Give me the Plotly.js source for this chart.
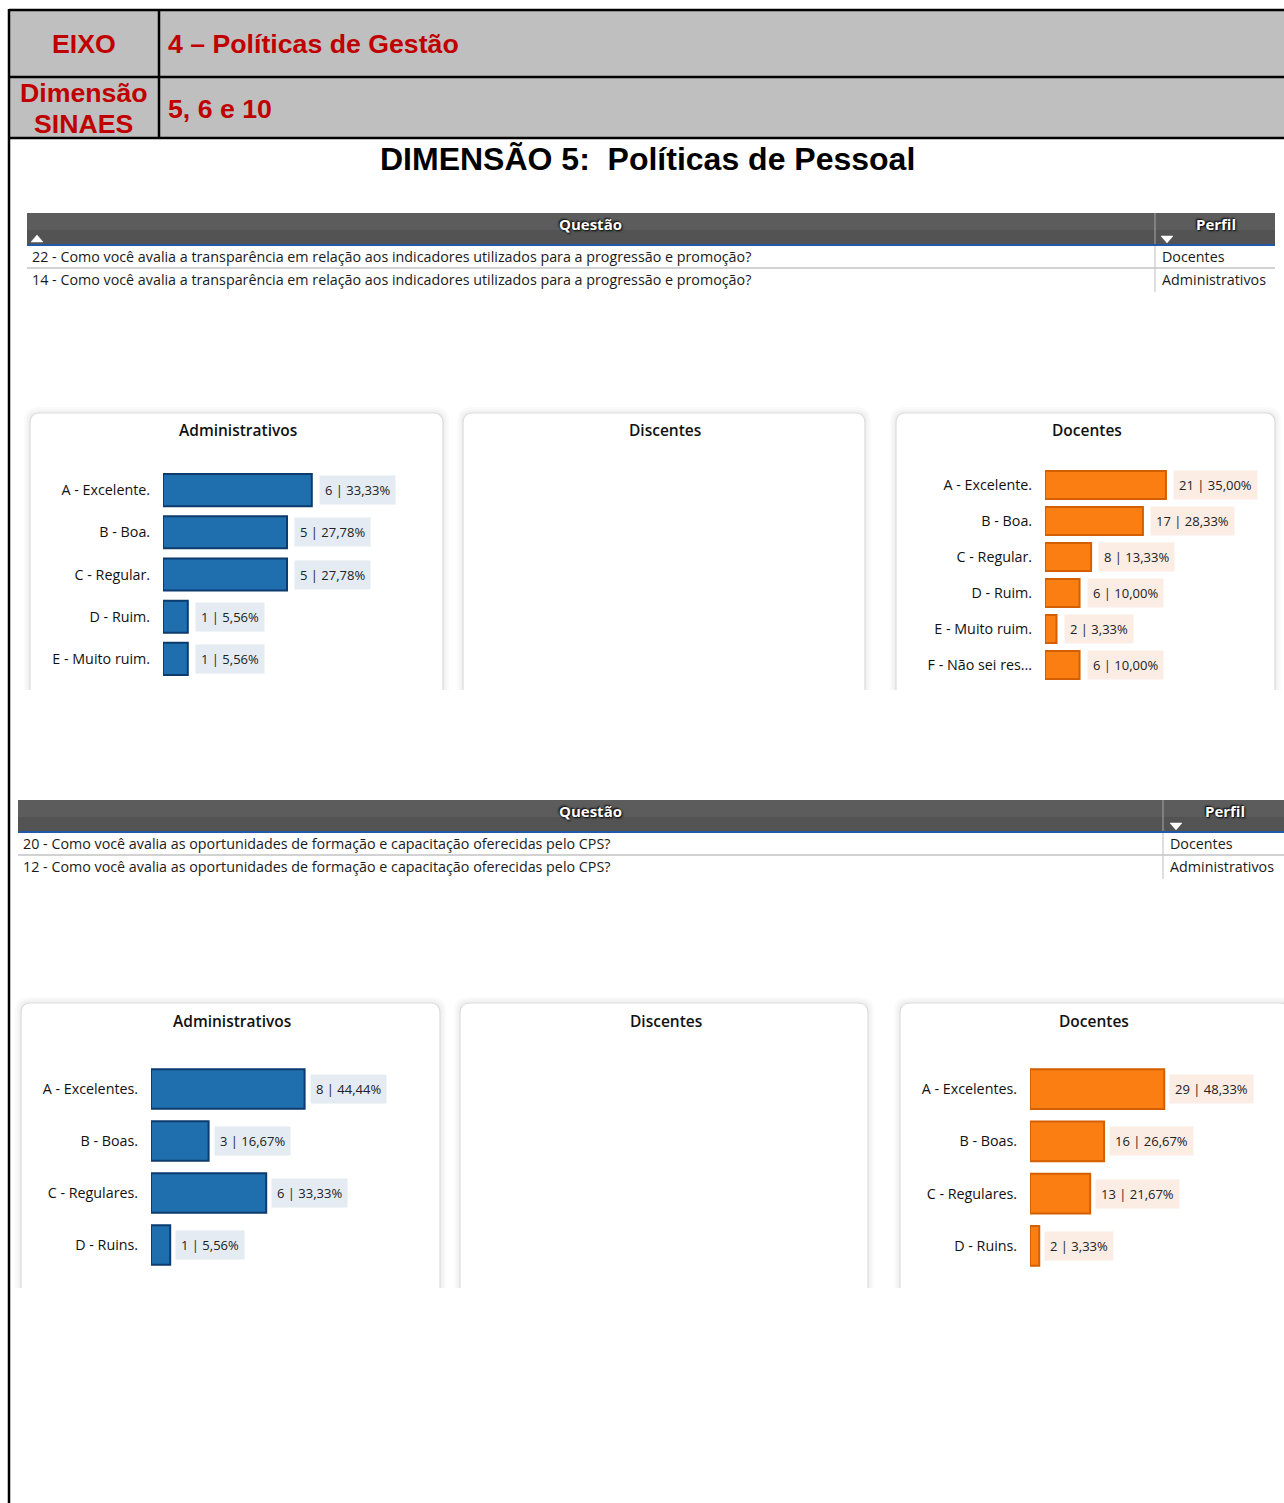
<!DOCTYPE html>
<html>
<head>
<meta charset="utf-8">
<script src="https://cdn.plot.ly/plotly-3.0.1.min.js"></script>
<style>html,body{margin:0;padding:0;background:#fff;}#chart{width:1284px;height:1503px;}</style>
</head>
<body>
<div id="chart"></div>
<script>
// ---------- DATA ----------
const headerEixo = 'EIXO';
const headerEixoValue = '4 – Políticas de Gestão';
const headerDim = ['Dimensão', 'SINAES'];
const headerDimValue = '5, 6 e 10';
const pageTitle = 'DIMENSÃO 5:  Políticas de Pessoal';

const table1Rows = [
  '22 - Como você avalia a transparência em relação aos indicadores utilizados para a progressão e promoção?',
  '14 - Como você avalia a transparência em relação aos indicadores utilizados para a progressão e promoção?'
];
const table1Perfil = ['Docentes', 'Administrativos'];
const table2Rows = [
  '20 - Como você avalia as oportunidades de formação e capacitação oferecidas pelo CPS?',
  '12 - Como você avalia as oportunidades de formação e capacitação oferecidas pelo CPS?'
];
const table2Perfil = ['Docentes', 'Administrativos'];
const panelTitles = ['Administrativos', 'Discentes', 'Docentes'];

const adm1Cats = ['A - Excelente.', 'B - Boa.', 'C - Regular.', 'D - Ruim.', 'E - Muito ruim.'];
const adm1Vals = [6, 5, 5, 1, 1];
const adm1Pct = ['33,33%', '27,78%', '27,78%', '5,56%', '5,56%'];

const doc1Cats = ['A - Excelente.', 'B - Boa.', 'C - Regular.', 'D - Ruim.', 'E - Muito ruim.', 'F - Não sei res...'];
const doc1Vals = [21, 17, 8, 6, 2, 6];
const doc1Pct = ['35,00%', '28,33%', '13,33%', '10,00%', '3,33%', '10,00%'];

const adm2Cats = ['A - Excelentes.', 'B - Boas.', 'C - Regulares.', 'D - Ruins.'];
const adm2Vals = [8, 3, 6, 1];
const adm2Pct = ['44,44%', '16,67%', '33,33%', '5,56%'];

const doc2Cats = ['A - Excelentes.', 'B - Boas.', 'C - Regulares.', 'D - Ruins.'];
const doc2Vals = [29, 16, 13, 2];
const doc2Pct = ['48,33%', '26,67%', '21,67%', '3,33%'];

// ---------- HELPERS ----------
const W = 1284, H = 1503;
const X = p => p / W;
const Y = p => 1 - p / H;
const shapes = [];
const annotations = [];
const UI = 'Open Sans, Noto Sans, sans-serif';
const ARIAL = 'Liberation Sans, Arial, sans-serif';

function rect(x0, y0, x1, y1, fill, lineColor, lw, layer) {
  shapes.push({type: 'rect', xref: 'paper', yref: 'paper', x0: X(x0), x1: X(x1), y0: Y(y0), y1: Y(y1),
    fillcolor: fill || 'rgba(0,0,0,0)', line: {color: lineColor || 'rgba(0,0,0,0)', width: lw || 0}, layer: layer || 'below'});
}
function line(x0, y0, x1, y1, color, w) {
  shapes.push({type: 'line', xref: 'paper', yref: 'paper', x0: X(x0), x1: X(x1), y0: Y(y0), y1: Y(y1),
    line: {color: color, width: w}, layer: 'above'});
}
function path(d, fill, lineColor, lw, layer) {
  shapes.push({type: 'path', xref: 'paper', yref: 'paper', path: d, fillcolor: fill || 'rgba(0,0,0,0)',
    line: {color: lineColor || 'rgba(0,0,0,0)', width: lw || 0}, layer: layer || 'below'});
}
function pt(x, y) { return X(x) + ',' + Y(y); }
function text(x, y, t, size, color, family, anchor, weight) {
  annotations.push({xref: 'paper', yref: 'paper', x: X(x), y: Y(y), text: t, showarrow: false,
    xanchor: anchor || 'center', yanchor: 'middle', font: {size: size, color: color, family: family, weight: weight || 'normal'}});
}
function triangle(cx, cy, up) {
  const d = up
    ? 'M ' + pt(cx - 6, cy + 4) + ' L ' + pt(cx + 6, cy + 4) + ' L ' + pt(cx, cy - 3) + ' Z'
    : 'M ' + pt(cx - 6, cy - 3) + ' L ' + pt(cx + 6, cy - 3) + ' L ' + pt(cx, cy + 4) + ' Z';
  path(d, '#ffffff', '#ffffff', 0.5, 'above');
}
function card(x0, y0, x1, y1) {
  const r = 10;
  for (let i = 3; i >= 1; i--) {
    const d = 'M ' + pt(x0 - i * 2, y1) + ' L ' + pt(x0 - i * 2, y0 + r - i) + ' Q ' + pt(x0 - i * 2, y0 - i * 2) + ' ' + pt(x0 + r, y0 - i * 2) +
      ' L ' + pt(x1 - r, y0 - i * 2) + ' Q ' + pt(x1 + i * 2, y0 - i * 2) + ' ' + pt(x1 + i * 2, y0 + r - i) + ' L ' + pt(x1 + i * 2, y1) + ' Z';
    path(d, 'rgba(0,0,0,0.018)', null, 0, 'below');
  }
  const d = 'M ' + pt(x0, y1) + ' L ' + pt(x0, y0 + r) + ' Q ' + pt(x0, y0) + ' ' + pt(x0 + r, y0) +
    ' L ' + pt(x1 - r, y0) + ' Q ' + pt(x1, y0) + ' ' + pt(x1, y0 + r) + ' L ' + pt(x1, y1);
  path(d + ' Z', '#ffffff', null, 0, 'below');
  path(d, null, '#dcdcdc', 1.2, 'below');
}
function tableBlock(x0, x1, xDiv, yTop, rows, perfil, textX, perfilX, qCenterX, pCenterX) {
  const hH = 31;
  rect(x0, yTop, x1, yTop + hH, '#5c5c5c', null, 0, 'below');
  rect(x0, yTop + hH * 0.55, x1, yTop + hH, '#535353', null, 0, 'below');
  line(xDiv, yTop, xDiv, yTop + hH, '#9a9a9a', 1.2);
  line(x0, yTop + hH + 1, x1, yTop + hH + 1, '#2357a8', 2);
  annotations.push({xref: 'paper', yref: 'paper', x: X(qCenterX), y: Y(yTop + 11), text: '<b>Questão</b>', showarrow: false,
    xanchor: 'center', yanchor: 'middle', font: {size: 15, color: '#ffffff', family: UI, shadow: '1px 1px 2px #000, -1px -1px 2px #000'}});
  annotations.push({xref: 'paper', yref: 'paper', x: X(pCenterX), y: Y(yTop + 11), text: '<b>Perfil</b>', showarrow: false,
    xanchor: 'center', yanchor: 'middle', font: {size: 15, color: '#ffffff', family: UI, shadow: '1px 1px 2px #000, -1px -1px 2px #000'}});
  const rowH = 22;
  for (let i = 0; i < rows.length; i++) {
    const cy = yTop + hH + 13 + i * rowH;
    text(textX, cy, rows[i], 14.3, '#1a1a1a', UI, 'left');
    text(perfilX, cy, perfil[i], 14.3, '#1a1a1a', UI, 'left');
  }
  line(x0, yTop + hH + 24, x1, yTop + hH + 24, '#d2d2d2', 2);
  line(xDiv, yTop + hH + 2, xDiv, yTop + hH + 2 + rows.length * rowH + 2, '#c8c8c8', 1.2);
}

// ---------- PAGE FRAME / HEADER ----------
rect(9, 10, 1290, 77, '#bfbfbf', null, 0, 'below');
rect(9, 77, 1290, 138, '#bfbfbf', null, 0, 'below');
line(9, 10, 1284, 10, '#000000', 2.5);
line(9, 77, 1284, 77, '#000000', 2.5);
line(9, 138, 1284, 138, '#000000', 2.5);
line(9, 9, 9, 1503, '#000000', 2.5);
line(159, 10, 159, 138, '#000000', 2.5);

text(84, 44, '<b>' + headerEixo + '</b>', 26.7, '#c00000', ARIAL);
text(166, 44, '<b>' + headerEixoValue + '</b>', 26.7, '#c00000', ARIAL, 'left');
text(84, 93, '<b>' + headerDim[0] + '</b>', 26.7, '#c00000', ARIAL);
text(84, 124, '<b>' + headerDim[1] + '</b>', 26.7, '#c00000', ARIAL);
text(166, 109, '<b>' + headerDimValue + '</b>', 26.7, '#c00000', ARIAL, 'left');
text(647, 159, '<b>' + pageTitle + '</b>', 32, '#000000', ARIAL);

// ---------- TABLES ----------
tableBlock(27, 1275, 1155, 213, table1Rows, table1Perfil, 30, 1160, 590, 1216);
triangle(37, 238, true);
triangle(1167, 239, false);
tableBlock(18, 1284, 1163, 800, table2Rows, table2Perfil, 21, 1168, 590, 1225);
triangle(1176, 826, false);

// ---------- CARDS ----------
card(30, 413, 443, 690);
card(463, 413, 865, 690);
card(896, 413, 1275, 690);
text(238, 430, panelTitles[0], 15.5, '#111111', UI, 'center', 600);
text(665, 430, panelTitles[1], 15.5, '#111111', UI, 'center', 600);
text(1087, 430, panelTitles[2], 15.5, '#111111', UI, 'center', 600);

card(21, 1003, 440, 1288);
card(460, 1003, 868, 1288);
card(900, 1003, 1290, 1288);
text(232, 1021, panelTitles[0], 15.5, '#111111', UI, 'center', 600);
text(666, 1021, panelTitles[1], 15.5, '#111111', UI, 'center', 600);
text(1094, 1021, panelTitles[2], 15.5, '#111111', UI, 'center', 600);

// ---------- BARS ----------
const BLUE = '#1f6fae', BLUE_LINE = '#0d3b6e', BLUE_BG = '#e4ebf2';
const ORANGE = '#fb7e12', ORANGE_LINE = '#d45f00', ORANGE_BG = '#fbece4';

function barTrace(cats, vals, ax, color, lineColor, width) {
  return {type: 'bar', orientation: 'h', y: cats, x: vals, xaxis: 'x' + ax, yaxis: 'y' + ax,
    marker: {color: color, line: {color: lineColor, width: 2}}, width: width, hoverinfo: 'skip', showlegend: false};
}
function labels(cats, vals, pcts, ax, bg, shift, size) {
  for (let i = 0; i < cats.length; i++) {
    annotations.push({xref: 'x' + ax, yref: 'y' + ax, x: vals[i], y: cats[i], text: vals[i] + ' | ' + pcts[i],
      showarrow: false, xanchor: 'left', yanchor: 'middle', xshift: shift, bgcolor: bg, borderpad: 5,
      font: {size: size, color: '#222222', family: UI}});
  }
}

const data = [
  barTrace(adm1Cats, adm1Vals, '', BLUE, BLUE_LINE, 0.76),
  barTrace(doc1Cats, doc1Vals, '2', ORANGE, ORANGE_LINE, 0.78),
  barTrace(adm2Cats, adm2Vals, '3', BLUE, BLUE_LINE, 0.76),
  barTrace(doc2Cats, doc2Vals, '4', ORANGE, ORANGE_LINE, 0.76)
];
labels(adm1Cats, adm1Vals, adm1Pct, '', BLUE_BG, 7, 13);
labels(doc1Cats, doc1Vals, doc1Pct, '2', ORANGE_BG, 7, 13);
labels(adm2Cats, adm2Vals, adm2Pct, '3', BLUE_BG, 5, 13);
labels(doc2Cats, doc2Vals, doc2Pct, '4', ORANGE_BG, 5, 13);

function xAx(x0, x1, range, anchor) {
  return {domain: [X(x0), X(x1)], range: range, visible: false, fixedrange: true, anchor: anchor};
}
function yAx(yTop, yBot, anchor) {
  return {domain: [Y(yBot), Y(yTop)], type: 'category', autorange: 'reversed', anchor: anchor,
    showgrid: false, zeroline: false, showline: false, ticks: 'outside', ticklen: 9, tickcolor: 'rgba(0,0,0,0)',
    tickfont: {size: 14.3, color: '#111111', family: UI}, fixedrange: true};
}

const layout = {
  width: W, height: H,
  margin: {l: 0, r: 0, t: 0, b: 0},
  paper_bgcolor: '#ffffff', plot_bgcolor: 'rgba(0,0,0,0)',
  showlegend: false,
  xaxis: xAx(163, 411, [0, 10], 'y'),
  yaxis: yAx(469, 680, 'x'),
  xaxis2: xAx(1045, 1275.4, [0, 40], 'y2'),
  yaxis2: yAx(467, 683, 'x2'),
  xaxis3: xAx(151, 419.8, [0, 14], 'y3'),
  yaxis3: yAx(1063, 1271, 'x3'),
  xaxis4: xAx(1030, 1280, [0, 54], 'y4'),
  yaxis4: yAx(1063, 1272, 'x4'),
  shapes: shapes,
  annotations: annotations
};

Plotly.newPlot('chart', data, layout, {displayModeBar: false, staticPlot: true});
</script>
</body>
</html>
